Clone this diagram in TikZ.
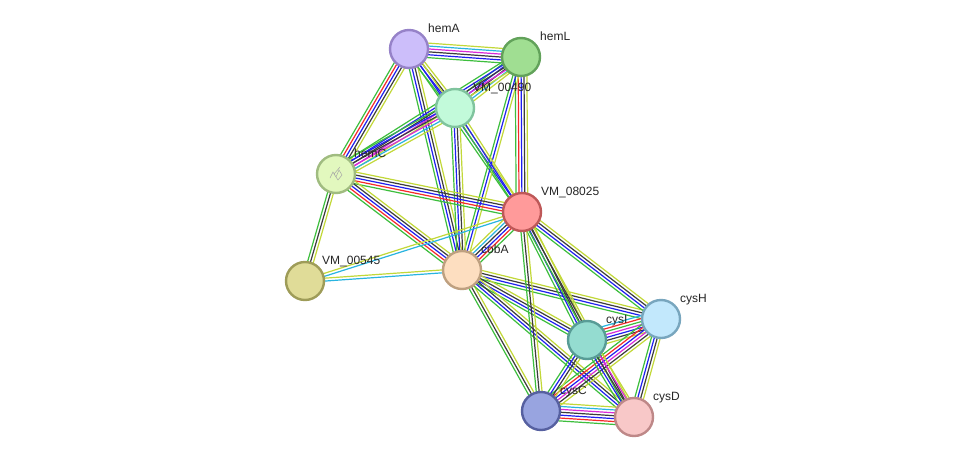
\documentclass[tikz,border=0pt]{standalone}
\usepackage{fontspec}
\setmainfont{Liberation Sans}
\usetikzlibrary{calc,backgrounds}
\definecolor{eg}{HTML}{3DBE3D}
\definecolor{eb}{HTML}{1F1FF0}
\definecolor{ek}{HTML}{3C3C3C}
\definecolor{er}{HTML}{F52A2A}
\definecolor{em}{HTML}{D82AD8}
\definecolor{ec}{HTML}{28B4E0}
\definecolor{ey}{HTML}{C2D838}
\newcommand\stredge[3]{%
  \foreach \cc [count=\ii] in {#3} {\xdef\ncnt{\ii}}%
  \foreach \cc [count=\ii] in {#3} {%
    \pgfmathsetmacro\off{(\ii-(\ncnt+1)/2)*2.9}%
    \draw[edgeline,color=\cc] ($(#1.center)!\off pt!90:(#2.center)$) -- ($(#2.center)!\off pt!-90:(#1.center)$);
  }%
}
\begin{document}
\begin{tikzpicture}[x=1pt,y=-1pt,
  prot/.style={circle,minimum size=38pt,inner sep=0pt,line width=2.4pt},
  lbl/.style={font=\fontsize{12}{14}\selectfont,inner sep=0pt,anchor=base west,text=black!85},
  edgeline/.style={line width=1.2pt}]
\useasboundingbox (0,0) rectangle (976,463);
\node[prot,fill={rgb,255:red,204;green,190;blue,250},draw={rgb,255:red,150;green,130;blue,200}] (hemA) at (409,49) {};
\node[prot,fill={rgb,255:red,160;green,222;blue,146},draw={rgb,255:red,98;green,162;blue,90}] (hemL) at (521,57) {};
\node[prot,fill={rgb,255:red,194;green,250;blue,218},draw={rgb,255:red,128;green,196;blue,158}] (v490) at (455,108) {};
\node[prot,fill={rgb,255:red,226;green,248;blue,190},draw={rgb,255:red,160;green,188;blue,128}] (hemC) at (336,174) {};
\node[prot,fill={rgb,255:red,255;green,154;blue,154},draw={rgb,255:red,190;green,88;blue,88}] (v8025) at (522,212) {};
\node[prot,fill={rgb,255:red,224;green,220;blue,152},draw={rgb,255:red,158;green,156;blue,88}] (v545) at (305,281) {};
\node[prot,fill={rgb,255:red,253;green,222;blue,192},draw={rgb,255:red,190;green,160;blue,128}] (cobA) at (462,270) {};
\node[prot,fill={rgb,255:red,194;green,232;blue,252},draw={rgb,255:red,120;green,166;blue,190}] (cysH) at (661,319) {};
\node[prot,fill={rgb,255:red,148;green,220;blue,208},draw={rgb,255:red,88;green,156;blue,150}] (cysI) at (587,340) {};
\node[prot,fill={rgb,255:red,152;green,164;blue,224},draw={rgb,255:red,86;green,96;blue,160}] (cysC) at (541,411) {};
\node[prot,fill={rgb,255:red,248;green,200;blue,200},draw={rgb,255:red,190;green,136;blue,136}] (cysD) at (634,417) {};
\draw[gray!70,line width=0.5pt] ($(hemC)+(-6,4)$) -- ($(hemC)+(-3,-2)$) -- ($(hemC)+(0,3)$) -- ($(hemC)+(3,-4)$) -- ($(hemC)+(6,1)$) -- ($(hemC)+(2,6)$) -- ($(hemC)+(-2,0)$) -- ($(hemC)+(4,-7)$);
\begin{pgfonlayer}{background}
\fill[white] (0,0) rectangle (976,463);
\stredge{hemA}{hemL}{eg,eb,ek,em,ec,ey}
\stredge{hemA}{v490}{eg,eb,ek,ey}
\stredge{hemA}{hemC}{eg,er,eb,ek,ey}
\stredge{hemA}{cobA}{eg,eb,ek,ey}
\stredge{hemA}{v8025}{eg,eb,ey}
\stredge{hemL}{v490}{eg,eb,ek,ec,ey}
\stredge{hemL}{hemC}{eg,eb,ek,em,ey}
\stredge{hemL}{v8025}{eg,er,eb,ek,ey}
\stredge{hemL}{cobA}{eg,eb,ey}
\stredge{v490}{hemC}{eg,eb,ek,em,ec,ey}
\stredge{v490}{cobA}{eg,eb,ek,ey}
\stredge{v490}{v8025}{eg,eb,ey}
\stredge{hemC}{v8025}{eg,er,eb,ek,ey}
\stredge{hemC}{cobA}{eg,er,eb,ek,ey}
\stredge{hemC}{v545}{eg,ek,ey}
\stredge{v545}{cobA}{ec,ey}
\stredge{v545}{v8025}{ec,ey}
\stredge{cobA}{v8025}{eg,er,eb,ek,ec,ey}
\stredge{cobA}{cysH}{eg,eb,ek,ey}
\stredge{cobA}{cysI}{eg,eb,ek,ey}
\stredge{cobA}{cysC}{eg,ek,ey}
\stredge{cobA}{cysD}{eg,eb,ek,ey}
\stredge{v8025}{cysH}{eg,eb,ek,ey}
\stredge{v8025}{cysI}{eg,eb,ek,ey}
\stredge{v8025}{cysC}{eg,ek,ey}
\stredge{v8025}{cysD}{eg,ek,ey}
\stredge{cysH}{cysI}{ec,er,eg,em,eb,ek,ey}
\stredge{cysH}{cysC}{eg,er,eb,em,ek,ey}
\stredge{cysH}{cysD}{eg,eb,ek,ey}
\stredge{cysI}{cysC}{eg,eb,ek,ey}
\stredge{cysI}{cysD}{eg,eb,ek,em,ey}
\stredge{cysC}{cysD}{eg,er,eb,ek,em,ec,ey}
\end{pgfonlayer}
\node[lbl] (hemA-l) at ($(hemA)+(19,-17)$) {hemA};
\node[lbl] (hemL-l) at ($(hemL)+(19,-17)$) {hemL};
\node[lbl] (v490-l) at ($(v490)+(18,-17)$) {VM\_00490};
\node[lbl] (hemC-l) at ($(hemC)+(18,-17)$) {hemC};
\node[lbl] (v8025-l) at ($(v8025)+(19,-17)$) {VM\_08025};
\node[lbl] (v545-l) at ($(v545)+(17,-17)$) {VM\_00545};
\node[lbl] (cobA-l) at ($(cobA)+(19,-17)$) {cobA};
\node[lbl] (cysH-l) at ($(cysH)+(19,-17)$) {cysH};
\node[lbl] (cysI-l) at ($(cysI)+(19,-17)$) {cysI};
\node[lbl] (cysC-l) at ($(cysC)+(19,-17)$) {cysC};
\node[lbl] (cysD-l) at ($(cysD)+(19,-17)$) {cysD};
\end{tikzpicture}
\end{document}
